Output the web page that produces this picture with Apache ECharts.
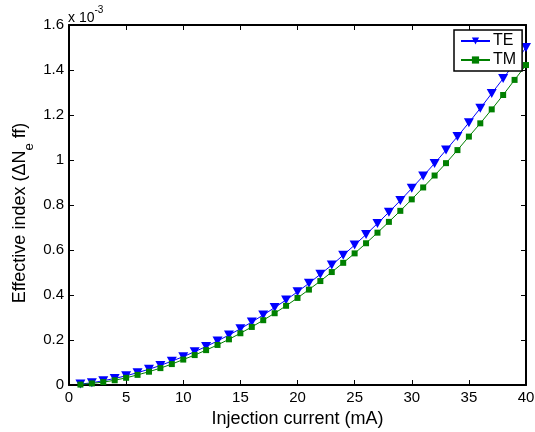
<!DOCTYPE html>
<html><head><meta charset="utf-8">
<script src="https://cdn.jsdelivr.net/npm/echarts@6/dist/echarts.min.js"></script>
<style>html,body{margin:0;padding:0;background:#fff}#c{width:535px;height:432px}</style>
</head><body><div id="c"></div>
<script>
// Injection current (mA)
const current = [1,2,3,4,5,6,7,8,9,10,11,12,13,14,15,16,17,18,19,20,21,22,23,24,25,26,27,28,29,30,31,32,33,34,35,36,37,38,39,40];
// Effective index change, in units of 1e-3
const teValues = [0.004,0.010,0.019,0.029,0.041,0.055,0.070,0.087,0.106,0.126,0.148,0.171,0.196,0.222,0.250,0.280,0.311,0.344,0.378,0.414,0.452,0.492,0.533,0.577,0.622,0.669,0.718,0.768,0.820,0.874,0.929,0.985,1.044,1.104,1.166,1.230,1.296,1.362,1.430,1.500];
const tmValues = [0.002,0.007,0.013,0.021,0.032,0.045,0.059,0.075,0.093,0.113,0.133,0.155,0.178,0.203,0.230,0.258,0.288,0.319,0.352,0.387,0.424,0.462,0.502,0.543,0.585,0.630,0.677,0.725,0.774,0.825,0.878,0.931,0.986,1.044,1.104,1.163,1.225,1.289,1.356,1.422];
const seriesNames = ['TE','TM'];
const xRange = {min:0, max:40, interval:5};
const yRange = {min:0, max:1.6, interval:0.2};
const xTitle = 'Injection current (mA)';
const yTitle = '{m|Effective index (\u0394N}{s|e}{m| ff)}';
const scaleText = '{a|x 10}{b|-3}';

const FONT = '"Liberation Sans", Arial, Helvetica, sans-serif';
const chart = echarts.init(document.getElementById('c'), null, {renderer:'canvas'});
const axisLine = {show:true, onZero:false, lineStyle:{color:'#000', width:2}};
const tick = {show:true, inside:true, length:5, lineStyle:{color:'#000', width:1}};
function xAx(pos, labels){
  return {type:'value', position:pos, min:xRange.min, max:xRange.max, interval:xRange.interval,
    axisLine, axisTick:tick, splitLine:{show:false},
    axisLabel:{show:labels, color:'#000', fontSize:15, fontFamily:FONT, margin:5}};
}
function yAx(pos, labels){
  return {type:'value', position:pos, min:yRange.min, max:yRange.max, interval:yRange.interval,
    axisLine, axisTick:tick, splitLine:{show:false},
    axisLabel:{show:labels, color:'#000', fontSize:15, fontFamily:FONT, margin:5,
      formatter: v => String(Math.round(v*10)/10)}};
}
const x0 = xAx('bottom', true);
x0.name = xTitle; x0.nameLocation='middle'; x0.nameGap=20;
x0.nameTextStyle = {color:'#000', fontSize:18, fontFamily:FONT};
const y0 = yAx('left', true);
y0.name = yTitle; y0.nameLocation='middle'; y0.nameGap=33; y0.nameRotate=90;
y0.nameMoveOverlap = false;
y0.nameTextStyle = {color:'#000', fontSize:18, fontFamily:FONT, padding:[0,16,0,0],
  rich:{m:{fontSize:18, fontFamily:FONT, color:'#000'}, s:{fontSize:13, fontFamily:FONT, color:'#000', padding:[18,0,0,0]}}};

const triDown = 'path://M0,0L10,0L5,9Z';
chart.setOption({
  animation:false,
  backgroundColor:'#fff',
  grid:{left:69, top:25, right:9, bottom:47, containLabel:false, outerBoundsMode:'none'},
  xAxis:[x0, xAx('top', false)],
  yAxis:[y0, yAx('right', false)],
  legend:{
    orient:'vertical', left:454, top:30, width:60,
    backgroundColor:'#fff', borderColor:'#000', borderWidth:1.5,
    padding:[3,6,3,6], itemWidth:29, itemHeight:9, itemGap:3,
    textStyle:{color:'#000', fontSize:16, fontFamily:FONT, padding:[0,0,0,-2]},
    data:seriesNames
  },
  graphic:[{type:'text', left:68, top:5, z:10,
    style:{text:scaleText, fill:'#000',
      rich:{a:{fontSize:14, fontFamily:FONT, color:'#000'}, b:{fontSize:10, fontFamily:FONT, color:'#000', padding:[0,0,16,0]}}}}],
  series:[
    {name:seriesNames[0], type:'line', data:current.map((x,i)=>[x, teValues[i]]),
      symbol:triDown, symbolSize:[10,9], showAllSymbol:true,
      itemStyle:{color:'#0000ff'}, lineStyle:{color:'#0000ff', width:1}, z:2},
    {name:seriesNames[1], type:'line', data:current.map((x,i)=>[x, tmValues[i]]),
      symbol:'rect', symbolSize:6, showAllSymbol:true,
      itemStyle:{color:'#008000'}, lineStyle:{color:'#008000', width:1}, z:3}
  ]
});
</script></body></html>
